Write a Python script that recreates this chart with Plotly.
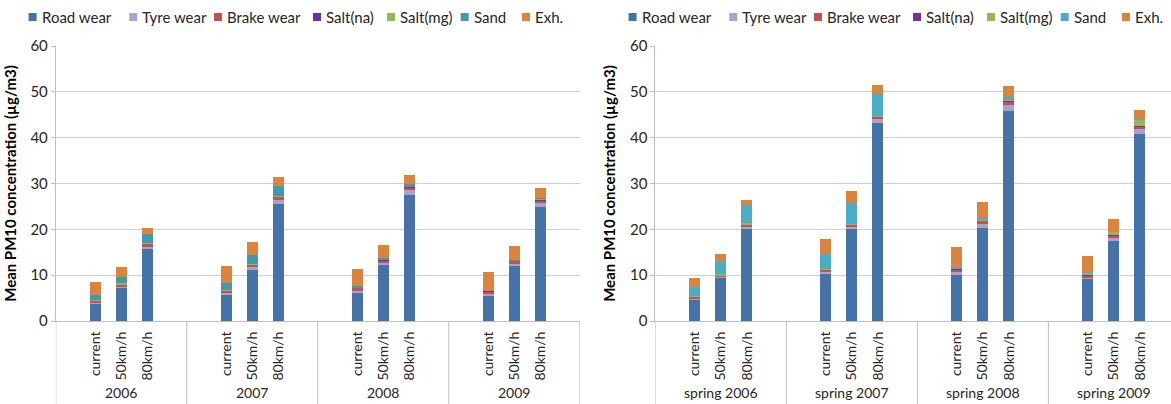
import plotly.graph_objects as go

# ---------------- data ----------------
components = ["Road wear", "Tyre wear", "Brake wear", "Salt(na)", "Salt(mg)", "Sand", "Exh."]
speeds = ["current", "50km/h", "80km/h"]
groups_left = ["2006", "2007", "2008", "2009"]
groups_right = ["spring 2006", "spring 2007", "spring 2008", "spring 2009"]

# order: per group -> current, 50km/h, 80km/h
road_L = [3.85, 7.2, 15.7, 5.8, 11.1, 25.6, 6.3, 12.2, 27.5, 5.65, 11.9, 24.8]
tyre_L = [0.25, 0.3, 0.5, 0.3, 0.65, 0.9, 0.3, 0.55, 1.1, 0.35, 0.6, 0.85]
brake_L = [0.4, 0.4, 0.7, 0.5, 0.55, 0.6, 0.6, 0.5, 0.6, 0.45, 0.6, 0.6]
saltna_L = [0.05, 0.1, 0.1, 0.05, 0.1, 0.1, 0.1, 0.1, 0.15, 0.1, 0.15, 0.2]
saltmg_L = [0.05, 0.2, 0.1, 0.05, 0.05, 0.05, 0.1, 0.1, 0.1, 0.05, 0.05, 0.3]
sand_L = [1.15, 1.3, 1.8, 1.6, 1.95, 2.15, 0.2, 0.3, 0.35, 0.05, 0.05, 0.15]
exh_L = [2.7, 2.2, 1.5, 3.8, 2.85, 1.95, 3.65, 2.85, 1.95, 3.95, 2.95, 2.1]

road_R = [4.65, 9.45, 20.1, 10.3, 20.0, 43.1, 10.2, 20.4, 45.8, 9.25, 17.55, 40.8]
tyre_R = [0.3, 0.25, 0.55, 0.5, 0.6, 1.15, 0.4, 0.8, 1.4, 0.3, 0.65, 1.1]
brake_R = [0.35, 0.25, 0.3, 0.4, 0.45, 0.4, 0.7, 0.7, 0.7, 0.4, 0.4, 0.55]
saltna_R = [0.05, 0.05, 0.05, 0.05, 0.05, 0.05, 0.1, 0.1, 0.2, 0.15, 0.1, 0.15]
saltmg_R = [0.05, 0.25, 0.4, 0.05, 0.05, 0.05, 0.1, 0.1, 0.2, 0.45, 0.75, 1.4]
sand_R = [2.0, 2.9, 3.9, 3.25, 4.5, 4.85, 0.3, 0.45, 0.6, 0.05, 0.05, 0.05]
exh_R = [1.95, 1.5, 1.05, 3.35, 2.7, 1.8, 4.35, 3.5, 2.45, 3.6, 2.85, 2.05]

y_ticks = [0, 10, 20, 30, 40, 50, 60]

colors_L = ["#4572A7", "#ABA1CB", "#C4504F", "#7131A1", "#93B85A", "#4198AF", "#DB843D"]
colors_R = ["#4572A7", "#ABA1CB", "#C4504F", "#7131A1", "#93B85A", "#4BACC6", "#DB843D"]

series_L = [road_L, tyre_L, brake_L, saltna_L, saltmg_L, sand_L, exh_L]
series_R = [road_R, tyre_R, brake_R, saltna_R, saltmg_R, sand_R, exh_R]

# ---------------- layout helpers ----------------
W, H = 1171, 404
SLOTS = 5  # category slots per group (blank, 3 bars, blank)
FONT = "Lato"
TXT = "#262626"
GRID = "#D0D0D0"
AXIS = "#BFBFBF"

def positions(ngroups):
    xs = []
    for g in range(ngroups):
        for j in range(len(speeds)):
            xs.append(g * SLOTS + 1.5 + j)
    return xs

xpos = positions(len(groups_left))
ticktext = speeds * len(groups_left)

fig = go.Figure()
for name, vals, c in zip(components, series_L, colors_L):
    fig.add_trace(go.Bar(x=xpos, y=vals, name=name, marker_color=c, marker_line_width=0,
                         width=0.4, xaxis="x", yaxis="y", showlegend=False))
for name, vals, c in zip(components, series_R, colors_R):
    fig.add_trace(go.Bar(x=xpos, y=vals, name=name, marker_color=c, marker_line_width=0,
                         width=0.4, xaxis="x2", yaxis="y2", showlegend=False))

y_bot = 321
y_top = 46
ydom = [(H - y_bot) / H, (H - y_top) / H]
xL = [55.8, 579.8]
xR0 = 655.4
slot_px = (xL[1] - xL[0]) / (SLOTS * len(groups_left))
xR_range_end = (W - xR0) / slot_px

common_x = dict(showgrid=False, zeroline=False, tickmode="array", tickvals=xpos,
                ticktext=ticktext, tickangle=-90, ticks="", showline=True,
                linecolor=AXIS, linewidth=1, automargin=False, ticklabelstandoff=4,
                tickfont=dict(family=FONT, size=14, color=TXT))
common_y = dict(range=[0, 60], tickvals=y_ticks, showgrid=True, gridcolor=GRID, gridwidth=1,
                zeroline=False, showline=True, linecolor=AXIS, linewidth=1,
                ticks="outside", ticklen=4, tickcolor=AXIS, automargin=False,
                tickfont=dict(family=FONT, size=15, color=TXT),
                title=dict(text="<b>Mean PM10 concentration (µg/m3)</b>", standoff=10,
                           font=dict(family=FONT, size=15, color="#000000")))

fig.update_layout(
    width=W, height=H,
    margin=dict(l=0, r=0, t=0, b=0, autoexpand=False),
    paper_bgcolor="white", plot_bgcolor="white",
    barmode="stack", bargap=0,
    xaxis=dict(domain=[xL[0] / W, xL[1] / W], range=[0, SLOTS * len(groups_left)], anchor="y", **common_x),
    yaxis=dict(domain=ydom, anchor="x", **common_y),
    xaxis2=dict(domain=[xR0 / W, 1.0], range=[0, xR_range_end], anchor="y2", **common_x),
    yaxis2=dict(domain=ydom, anchor="x2", **common_y),
    showlegend=False,
)

shapes = []
annotations = []
# group dividers and group labels under each x axis
for xr, groups in (("x", groups_left), ("x2", groups_right)):
    for g in range(len(groups) + 1):
        shapes.append(dict(type="line", xref=xr, yref="paper", x0=g * SLOTS, x1=g * SLOTS,
                           y0=0, y1=ydom[0], line=dict(color=AXIS, width=1)))
    for g, label in enumerate(groups):
        annotations.append(dict(text=label, xref=xr, yref="paper", x=g * SLOTS + SLOTS / 2,
                                y=(H - 392) / H, showarrow=False, xanchor="center", yanchor="middle",
                                font=dict(family=FONT, size=14, color=TXT)))

# legends (one above each chart), squares + labels
legend_offsets = [28.6, 129.3, 214.0, 313.0, 387.0, 460.7, 522.0]
legend_y = 17
sq = 8
for x0, colors in ((0, colors_L), (600, colors_R)):
    for name, c, off in zip(components, colors, legend_offsets):
        px = x0 + off
        shapes.append(dict(type="rect", xref="paper", yref="paper",
                           x0=px / W, x1=(px + sq) / W,
                           y0=(H - legend_y - sq / 2) / H, y1=(H - legend_y + sq / 2) / H,
                           fillcolor=c, line=dict(width=0)))
        annotations.append(dict(text=name, xref="paper", yref="paper", x=(px + sq + 3) / W,
                                y=(H - legend_y) / H, showarrow=False, xanchor="left",
                                yanchor="middle", font=dict(family=FONT, size=15, color=TXT)))

fig.update_layout(shapes=shapes, annotations=annotations)

fig.write_html("out.html", config={"displayModeBar": False},
               post_script="document.body.style.margin='0px';document.body.style.overflow='hidden';")
